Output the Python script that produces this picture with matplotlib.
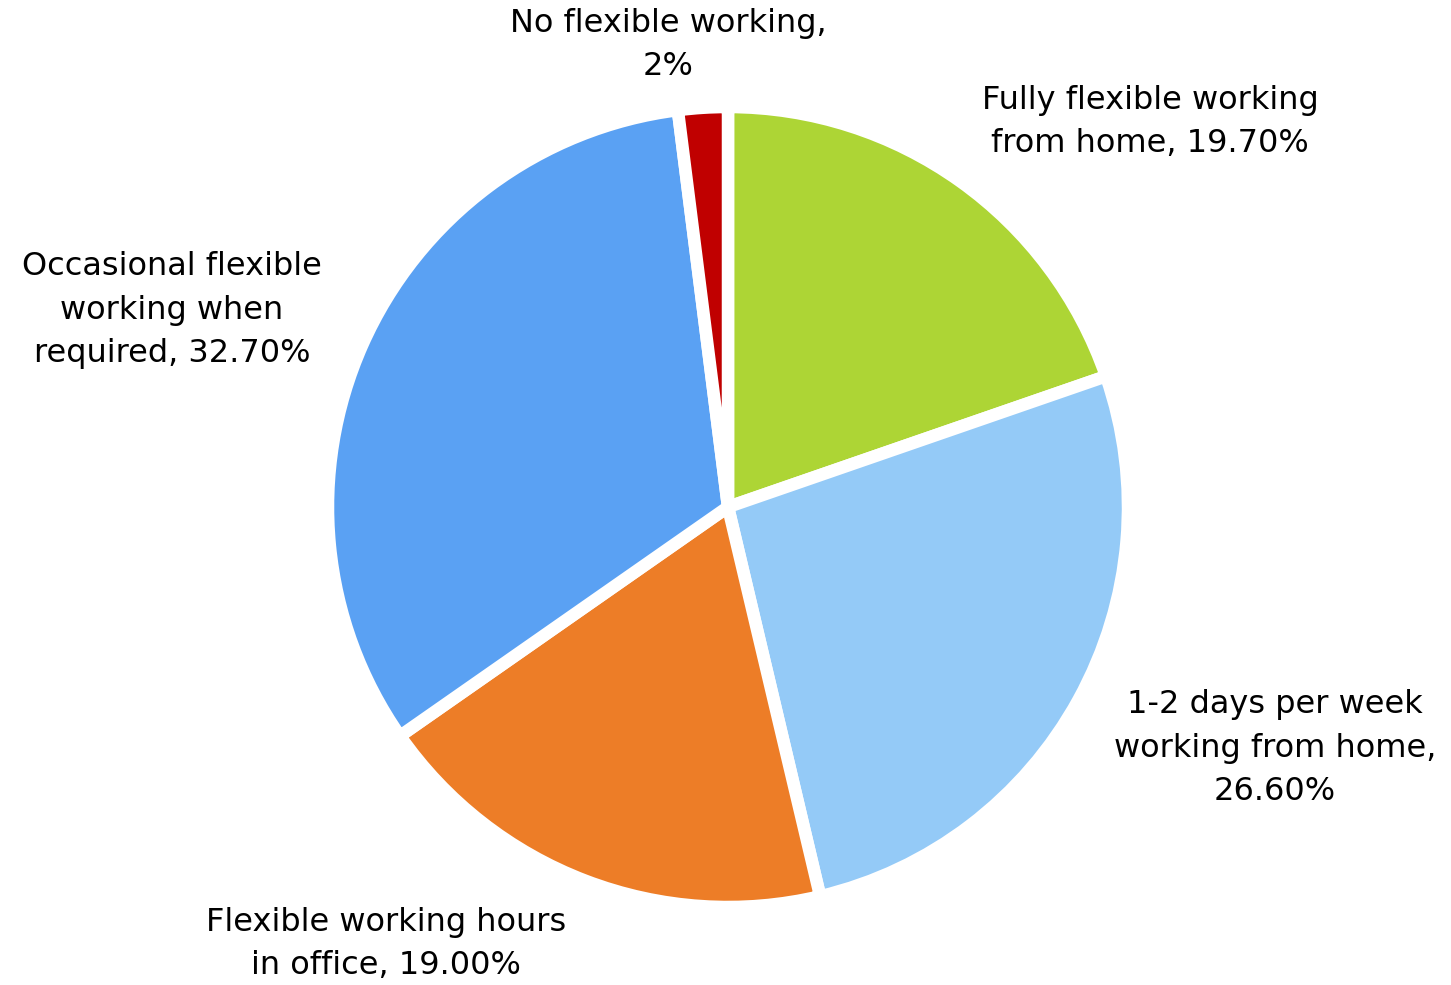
import matplotlib
matplotlib.use("Agg")
import matplotlib.pyplot as plt

labels = ["Fully flexible working\nfrom home, 19.70%",
          "1-2 days per week\nworking from home,\n26.60%",
          "Flexible working hours\nin office, 19.00%",
          "Occasional flexible\nworking when\nrequired, 32.70%",
          "No flexible working,\n2%"]
values = [19.7, 26.6, 19.0, 32.7, 2.0]
colors = ["#ADD535", "#94CAF7", "#ED7D27", "#5AA1F3", "#C00000"]

# label centres in pixel coordinates (x, y from top)
label_pos = [(1150, 122), (1275, 748), (386, 944), (172, 310), (668, 45)]

W, H = 1451, 985
fig = plt.figure(figsize=(W / 100, H / 100), dpi=100)
ax = fig.add_axes([0, 0, 1, 1])

ax.pie(values, colors=colors, startangle=90, counterclock=False,
       center=(728, H - 507), radius=400,
       wedgeprops=dict(edgecolor="white", linewidth=9))

ax.set_xlim(0, W)
ax.set_ylim(0, H)
ax.set_aspect("equal")
ax.axis("off")

for txt, (x, y) in zip(labels, label_pos):
    ax.text(x, H - y, txt, ha="center", va="center", fontsize=23,
            family="DejaVu Sans", color="black", linespacing=1.52)

fig.savefig("out.png", dpi=100)
